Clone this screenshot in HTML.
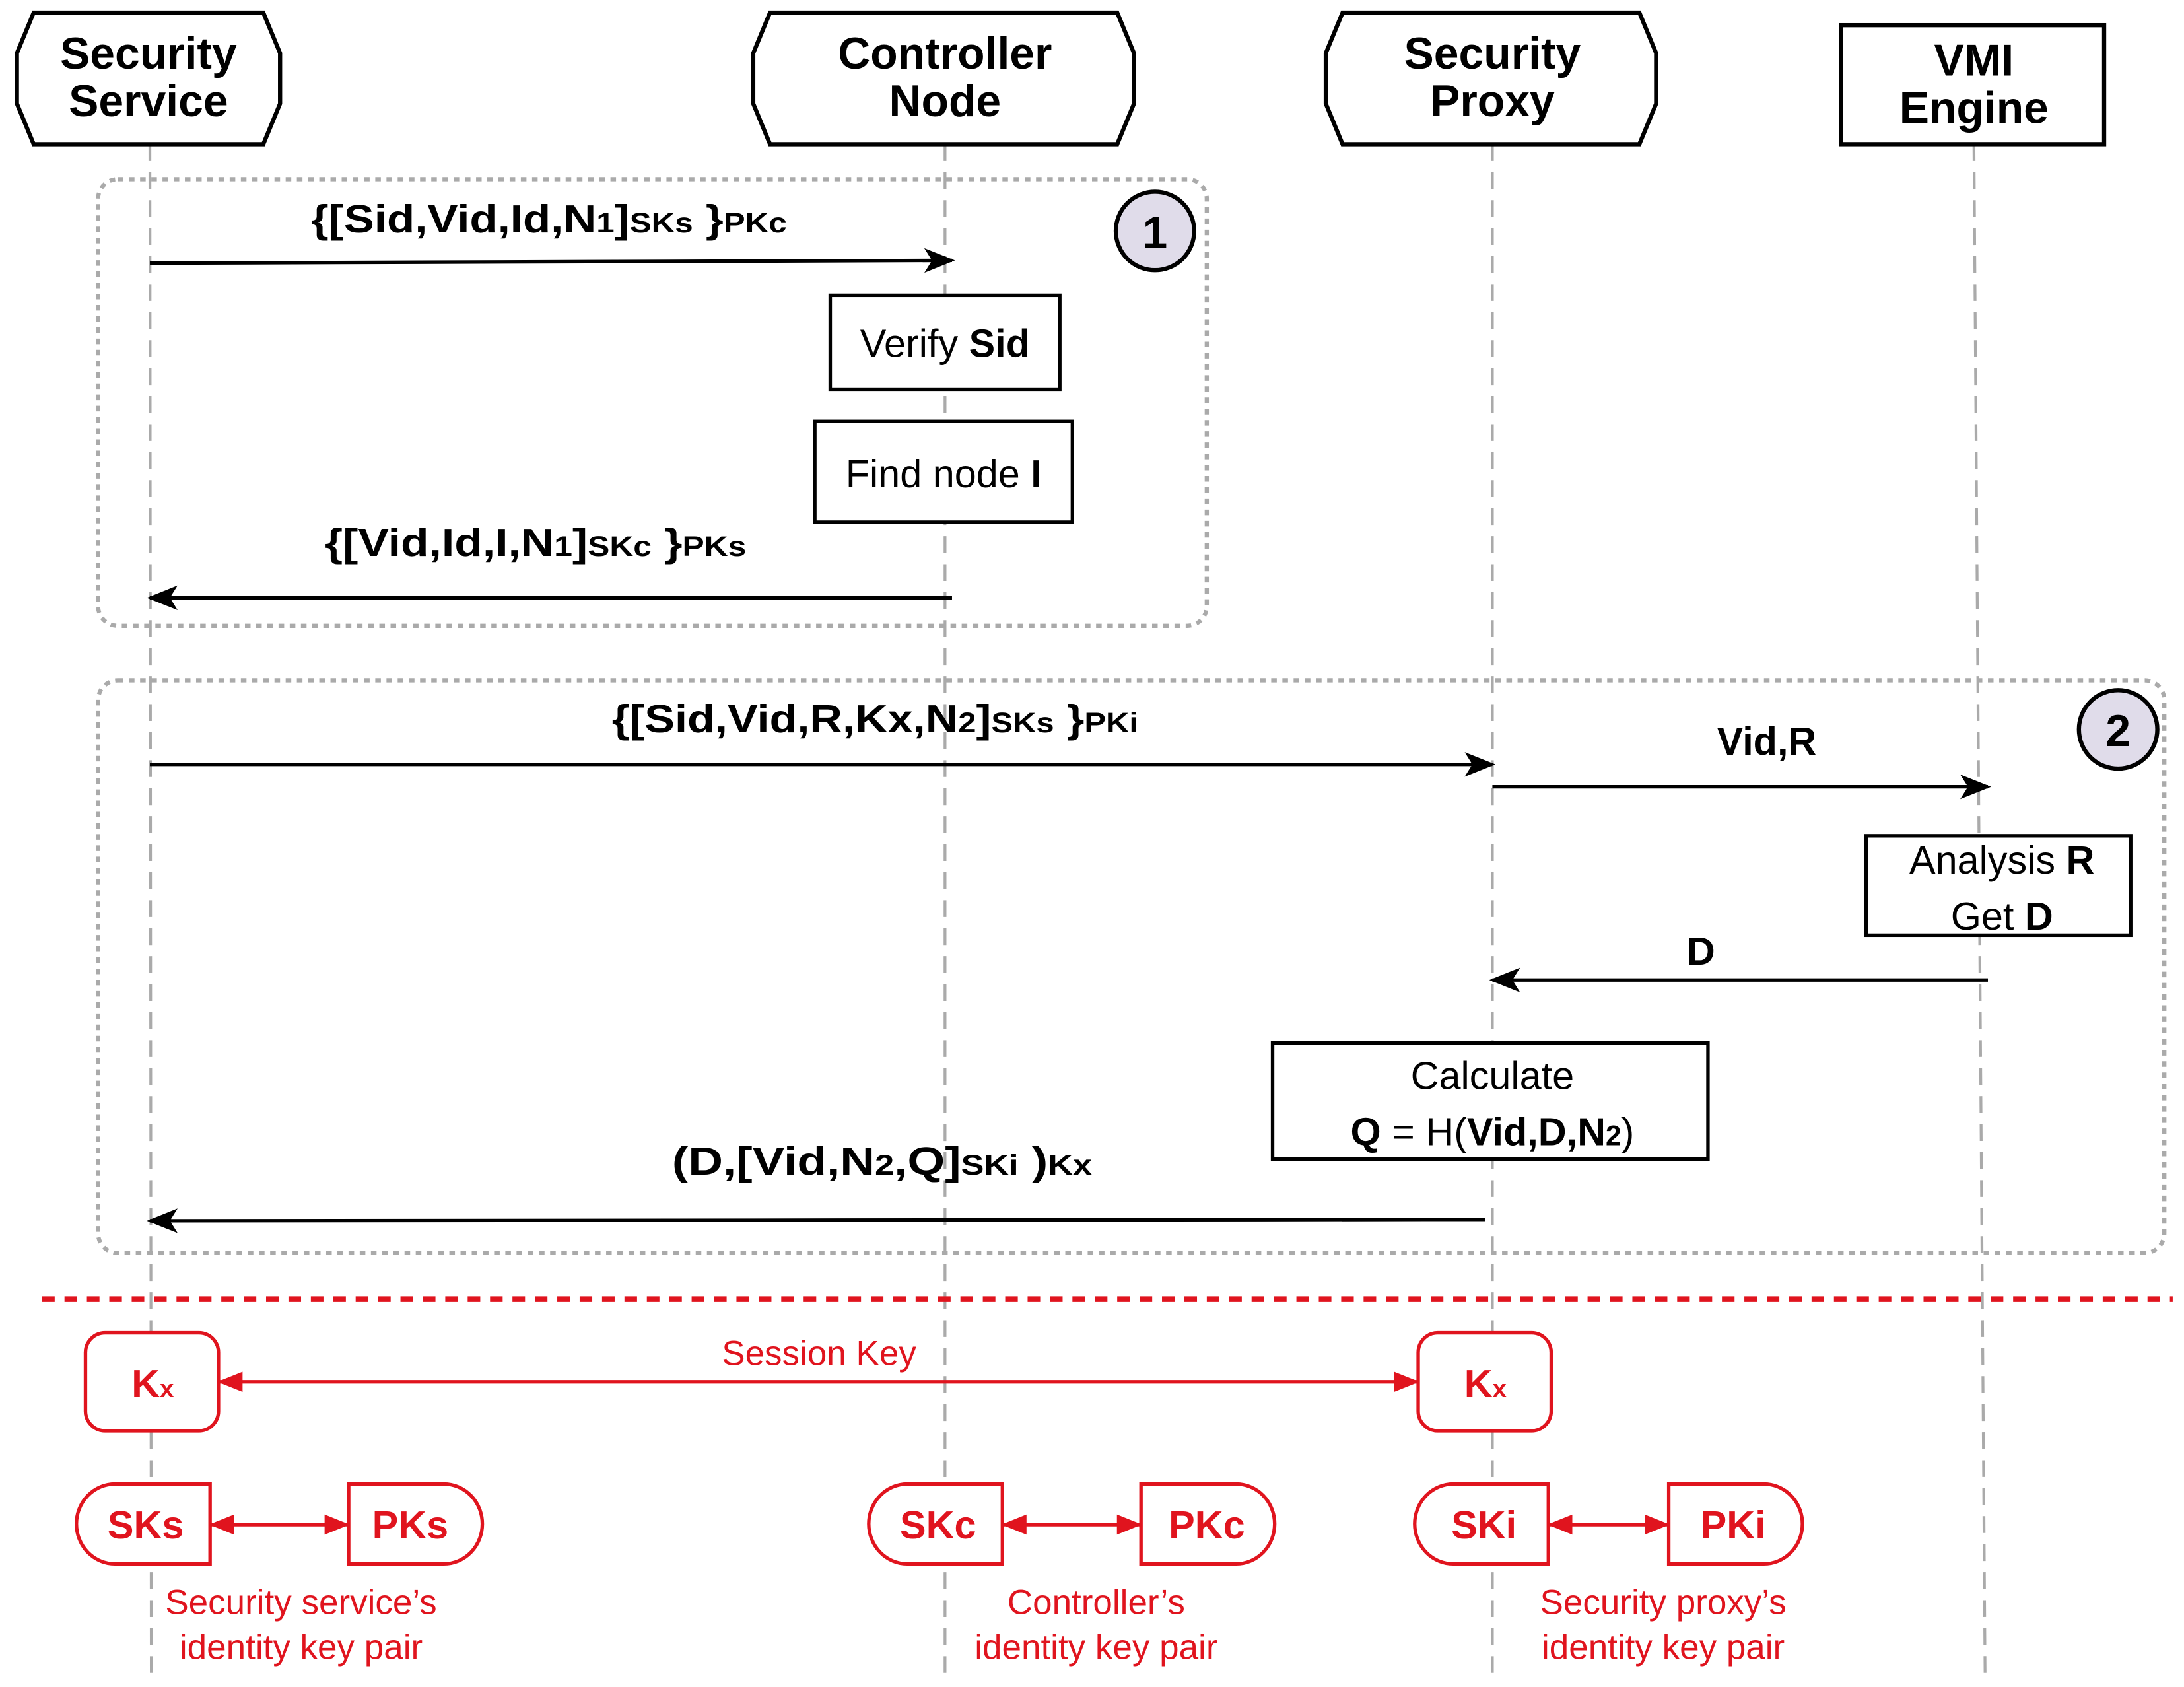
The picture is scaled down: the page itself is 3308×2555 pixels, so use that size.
<!DOCTYPE html>
<html><head><style>
html,body{margin:0;padding:0;background:#fff;}
svg{display:block;}
text{font-family:"Liberation Sans",sans-serif;}
.b{font-weight:bold;}
</style></head><body>
<svg width="3308" height="2555" viewBox="0 0 1560 1205" xmlns="http://www.w3.org/2000/svg">
<defs>
<marker id="ak2" viewBox="0 0 10 10" refX="9" refY="5" markerWidth="22" markerHeight="22" markerUnits="userSpaceOnUse" orient="auto-start-reverse"><path d="M0,1 L10,5 L0,9 L2.5,5 z" fill="#000"/></marker>
<marker id="ar" viewBox="0 0 10 10" refX="9" refY="5" markerWidth="18" markerHeight="18" markerUnits="userSpaceOnUse" orient="auto-start-reverse"><path d="M0,1 L10,5 L0,9 z" fill="#e0141e"/></marker>
</defs>
<g stroke="#aaa" stroke-width="2" stroke-dasharray="12,8">
<line x1="107" y1="103" x2="108" y2="1200"/>
<line x1="675" y1="103" x2="675" y2="1200"/>
<line x1="1066" y1="103" x2="1066" y2="1200"/>
<line x1="1410" y1="103" x2="1418" y2="1200"/>
</g>
<g fill="#fff" stroke="#000" stroke-width="3">
<polygon points="24,9 188,9 200,38 200,74 188,103 24,103 12,74 12,38"/>
<polygon points="550,9 798,9 810,38 810,74 798,103 550,103 538,74 538,38"/>
<polygon points="959,9 1171,9 1183,38 1183,74 1171,103 959,103 947,74 947,38"/>
<rect x="1315" y="18" width="188" height="85"/>
</g>
<g class="b" font-size="32" text-anchor="middle">
<text x="106" y="49">Security</text><text x="106" y="83">Service</text>
<text x="675" y="49">Controller</text><text x="675" y="83">Node</text>
<text x="1066" y="49">Security</text><text x="1066" y="83">Proxy</text>
<text x="1410" y="54">VMI</text><text x="1410" y="88">Engine</text>
</g>
<g fill="none" stroke="#aaa" stroke-width="3" stroke-dasharray="4,4">
<rect x="70" y="128" width="792" height="319" rx="14"/>
<rect x="70" y="486" width="1476" height="409" rx="14"/>
</g>
<circle cx="825" cy="165" r="28" fill="#e0dcea" stroke="#000" stroke-width="3"/>
<text x="825" y="177" class="b" font-size="32" text-anchor="middle">1</text>
<circle cx="1513" cy="521" r="28" fill="#e0dcea" stroke="#000" stroke-width="3"/>
<text x="1513" y="533" class="b" font-size="32" text-anchor="middle">2</text>
<g stroke="#000" stroke-width="2.5" fill="none">
<line x1="107" y1="188" x2="680" y2="186" marker-end="url(#ak2)"/>
<line x1="680" y1="427" x2="107" y2="427" marker-end="url(#ak2)"/>
<line x1="107" y1="546" x2="1066" y2="546" marker-end="url(#ak2)"/>
<line x1="1066" y1="562" x2="1420" y2="562" marker-end="url(#ak2)"/>
<line x1="1420" y1="700" x2="1066" y2="700" marker-end="url(#ak2)"/>
<line x1="1061" y1="871" x2="107" y2="872" marker-end="url(#ak2)"/>
</g>
<g class="b" font-size="28">
<text x="222" y="166" textLength="340" lengthAdjust="spacingAndGlyphs">{[Sid,Vid,Id,N<tspan font-size="20">1</tspan>]<tspan font-size="20">SKs</tspan> }<tspan font-size="20">PKc</tspan></text>
<text x="232" y="397" textLength="301" lengthAdjust="spacingAndGlyphs">{[Vid,Id,I,N<tspan font-size="20">1</tspan>]<tspan font-size="20">SKc</tspan> }<tspan font-size="20">PKs</tspan></text>
<text x="437" y="523" textLength="376" lengthAdjust="spacingAndGlyphs">{[Sid,Vid,R,Kx,N<tspan font-size="20">2</tspan>]<tspan font-size="20">SKs</tspan> }<tspan font-size="20">PKi</tspan></text>
<text x="1262" y="539" text-anchor="middle">Vid,R</text>
<text x="1215" y="689" text-anchor="middle">D</text>
<text x="480" y="839" textLength="300" lengthAdjust="spacingAndGlyphs">(D,[Vid,N<tspan font-size="20">2</tspan>,Q]<tspan font-size="20">SKi</tspan> )<tspan font-size="20">Kx</tspan></text>
</g>
<g fill="#fff" stroke="#000" stroke-width="2.5">
<rect x="593" y="211" width="164" height="67"/>
<rect x="582" y="301" width="184" height="72"/>
<rect x="1333" y="597" width="189" height="71"/>
<rect x="909" y="745" width="311" height="83"/>
</g>
<g font-size="28" text-anchor="middle">
<text x="675" y="255">Verify <tspan class="b">Sid</tspan></text>
<text x="674" y="348">Find node <tspan class="b">I</tspan></text>
<text x="1430" y="624">Analysis <tspan class="b">R</tspan></text>
<text x="1430" y="664">Get <tspan class="b">D</tspan></text>
<text x="1066" y="778">Calculate</text>
<text x="1066" y="818"><tspan class="b">Q</tspan> = H(<tspan class="b">Vid,D,N</tspan><tspan class="b" font-size="20">2</tspan>)</text>
</g>
<line x1="30" y1="928" x2="1552" y2="928" stroke="#e0141e" stroke-width="4" stroke-dasharray="9,7"/>
<g fill="#fff" stroke="#e0141e" stroke-width="2.5">
<rect x="61" y="952" width="95" height="70" rx="14"/>
<rect x="1013" y="952" width="95" height="70" rx="14"/>
<path d="M150,1060 H82 A27,28 0 0 0 82,1117 H150 Z"/>
<path d="M249,1060 H317 A27,28 0 0 1 317,1117 H249 Z"/>
<path d="M716,1060 H648 A27,28 0 0 0 648,1117 H716 Z"/>
<path d="M815,1060 H883 A27,28 0 0 1 883,1117 H815 Z"/>
<path d="M1106,1060 H1038 A27,28 0 0 0 1038,1117 H1106 Z"/>
<path d="M1192,1060 H1260 A27,28 0 0 1 1260,1117 H1192 Z"/>
</g>
<g stroke="#e0141e" stroke-width="2.5">
<line x1="157" y1="987" x2="1012" y2="987" marker-start="url(#ar)" marker-end="url(#ar)"/>
<line x1="151" y1="1089" x2="248" y2="1089" marker-start="url(#ar)" marker-end="url(#ar)"/>
<line x1="717" y1="1089" x2="814" y2="1089" marker-start="url(#ar)" marker-end="url(#ar)"/>
<line x1="1107" y1="1089" x2="1191" y2="1089" marker-start="url(#ar)" marker-end="url(#ar)"/>
</g>
<g fill="#e0141e" text-anchor="middle">
<g class="b" font-size="28">
<text x="109" y="998">K<tspan font-size="18">x</tspan></text>
<text x="1061" y="998">K<tspan font-size="18">x</tspan></text>
<text x="104" y="1099">SKs</text><text x="293" y="1099">PKs</text>
<text x="670" y="1099">SKc</text><text x="862" y="1099">PKc</text>
<text x="1060" y="1099">SKi</text><text x="1238" y="1099">PKi</text>
</g>
<g font-size="25">
<text x="585" y="975">Session Key</text>
<text x="215" y="1153">Security service’s</text><text x="215" y="1185">identity key pair</text>
<text x="783" y="1153">Controller’s</text><text x="783" y="1185">identity key pair</text>
<text x="1188" y="1153">Security proxy’s</text><text x="1188" y="1185">identity key pair</text>
</g>
</g>
</svg>
</body></html>
